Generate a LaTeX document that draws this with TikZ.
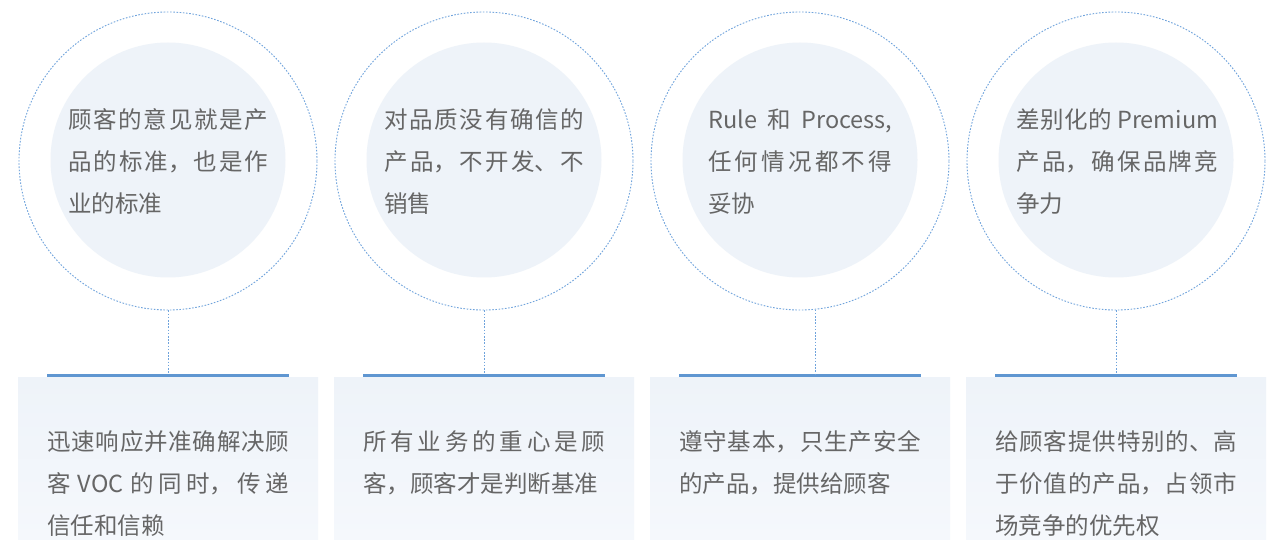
\documentclass[tikz,border=0pt]{standalone}
\usepackage{fontspec}
\setmainfont{Noto Sans CJK SC}
\usetikzlibrary{positioning}
\XeTeXlinebreaklocale "zh"
\XeTeXlinebreakskip=0pt plus 6pt

\definecolor{ringblue}{HTML}{6FA3DC}
\definecolor{discfill}{HTML}{EEF3F9}
\definecolor{barblue}{HTML}{5F96D1}
\definecolor{textgray}{HTML}{666666}
\definecolor{paneltop}{HTML}{EEF3F9}
\definecolor{panelbot}{HTML}{F5F8FC}

\tikzset{
  ring/.style={circle, draw=ringblue, line width=0.9pt, dash pattern=on 1.6pt off 1.6pt, minimum size=298pt, inner sep=0pt},
  disc/.style={circle, fill=discfill, minimum size=235pt, inner sep=0pt},
  bar/.style={rectangle, fill=barblue, minimum width=242pt, minimum height=3pt, inner sep=0pt},
  panel/.style={rectangle, top color=paneltop, bottom color=panelbot, minimum width=300pt, minimum height=163pt, inner sep=0pt, anchor=north},
  link/.style={draw=ringblue, line width=0.9pt, dash pattern=on 1.6pt off 1.6pt},
  words/.style={anchor=base west, inner sep=0pt, align=justify, text=textgray, font=\fontsize{23.5}{42}\selectfont},
}

\begin{document}
\begin{tikzpicture}[x=1pt, y=-1pt]
\useasboundingbox (0,0) rectangle (1283,540);
\fill[white] (0,0) rectangle (1283,540);

\node(p1)[panel] at (168,377) {};
\node(p2)[panel] at (484,377) {};
\node(p3)[panel] at (800,377) {};
\node(p4)[panel] at (1116,377) {};

\node(t1)[bar] at (168,375.5) {};
\node(t2)[bar] at (484,375.5) {};
\node(t3)[bar] at (800,375.5) {};
\node(t4)[bar] at (1116,375.5) {};

\node(d1)[disc] at (168,160) {};
\node(d2)[disc] at (484,160) {};
\node(d3)[disc] at (800,160) {};
\node(d4)[disc] at (1116,160) {};

\node(c1)[ring] at (168,161) {};
\node(c2)[ring] at (484,161) {};
\node(c3)[ring] at (800,161) {};
\node(c4)[ring] at (1116,161) {};

\draw[link] (c1.south)--(t1.north);
\draw[link] (c2.south)--(t2.north);
\draw[link] (c3.-84.6)--(c3.-84.6 |- t3.north);
\draw[link] (c4.south)--(t4.north);

\node(a1)[words, text width=200pt] at (68,129) {顾客的意见就是产\linebreak 品的标准，也是作\linebreak 业的标准};
\node(a2)[words, text width=200pt] at (384,129) {对品质没有确信的\linebreak 产品，不开发、不\linebreak 销售};
\node(a3)[words, text width=184pt] at (708,129) {Rule 和 Process,\linebreak 任何情况都不得\linebreak 妥协};
\node(a4)[words, text width=202pt] at (1016,129) {差别化的 Premium\linebreak 产品，确保品牌竞\linebreak 争力};

\node(b1)[words, text width=242pt] at (47,450) {迅速响应并准确解决顾\linebreak 客 VOC 的同时，传递\linebreak 信任和信赖};
\node(b2)[words, text width=242pt] at (363,450) {所有业务的重心是顾\linebreak 客，顾客才是判断基准};
\node(b3)[words, text width=242pt] at (679,450) {遵守基本，只生产安全\linebreak 的产品，提供给顾客};
\node(b4)[words, text width=242pt] at (995,450) {给顾客提供特别的、高\linebreak 于价值的产品，占领市\linebreak 场竞争的优先权};
\end{tikzpicture}
\end{document}
